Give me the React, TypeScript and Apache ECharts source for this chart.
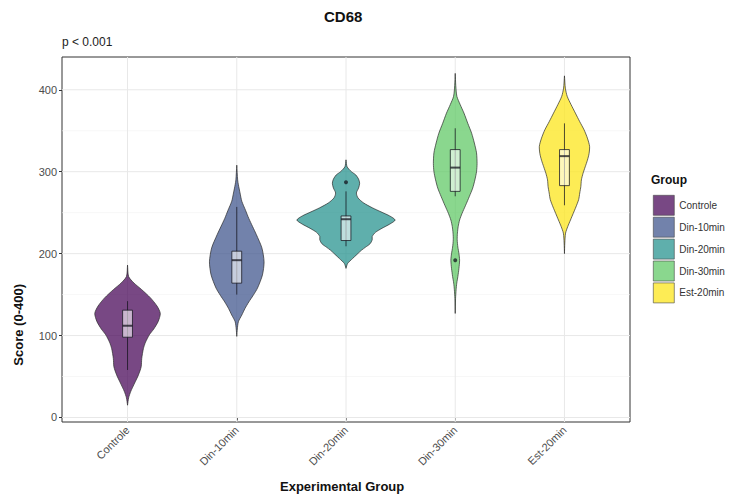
import React, { useEffect, useRef } from "react";
import * as echarts from "echarts";

const categories = ["Controle", "Din-10min", "Din-20min", "Din-30min", "Est-20min"];
const fills = [
  "rgba(68,1,84,0.72)",
  "rgba(59,82,139,0.72)",
  "rgba(33,144,140,0.72)",
  "rgba(93,200,99,0.72)",
  "rgba(253,231,37,0.78)",
];

// violin outlines: [score, half width in category units]
const controleProfile = [[186,0],[172,0.01],[164,0.06],[156,0.13],[146,0.21],[136,0.27],[127,0.30],[117,0.28],[108,0.24],[101,0.20],[92,0.165],[84,0.145],[72,0.13],[62,0.125],[52,0.10],[42,0.065],[32,0.03],[24,0.01],[15,0]];
const din10Profile = [[308,0],[290,0.008],[284,0.015],[274,0.03],[264,0.046],[253,0.08],[243,0.11],[233,0.145],[223,0.18],[207,0.23],[190,0.25],[174,0.235],[158,0.19],[149,0.15],[141,0.11],[133,0.075],[125,0.046],[117,0.015],[108,0.005],[99,0]];
const din20Profile = [[314.5,0],[306,0.01],[300,0.05],[296,0.09],[291,0.115],[286,0.125],[280,0.115],[274,0.095],[268,0.11],[262,0.16],[256,0.24],[251,0.32],[246,0.40],[241,0.45],[236,0.40],[231,0.33],[226,0.27],[221,0.24],[217,0.24],[212,0.22],[208,0.18],[204,0.14],[199,0.10],[194,0.06],[188,0.015],[182,0]];
const din30Profile = [[420,0],[405,0.005],[392,0.015],[382,0.045],[371.5,0.08],[359,0.115],[347,0.15],[335,0.175],[323,0.195],[310,0.20],[300,0.195],[290,0.18],[280,0.16],[270,0.13],[259,0.095],[249,0.062],[241,0.04],[233,0.027],[225,0.02],[217,0.018],[208,0.024],[200,0.034],[192,0.04],[182,0.034],[172,0.024],[164,0.014],[156,0.008],[145,0.003],[127,0]];
const est20Profile = [[417,0],[402,0.008],[392,0.025],[382,0.06],[371.5,0.1],[361,0.14],[351,0.18],[341,0.21],[331,0.23],[322,0.225],[314,0.21],[306,0.19],[298,0.17],[290,0.155],[282,0.15],[274,0.14],[266,0.13],[257,0.105],[249,0.08],[241,0.055],[233,0.03],[225,0.01],[213,0.003],[200,0]];
const profiles = [controleProfile, din10Profile, din20Profile, din30Profile, est20Profile];

// box stats: [lower whisker, q1, median, q3, upper whisker]
const boxStats = [
  [58, 98, 112, 131, 142],
  [150, 164, 192, 203, 257],
  [209, 216, 242, 246, 276],
  [270, 276, 305, 327, 353],
  [259, 283, 319, 327, 359],
];
const outliers = [[], [], [287], [192], []];

const yTicks = [0, 100, 200, 300, 400];
const yMinor = [50, 150, 250, 350];
const xTicks = [1, 2, 3, 4, 5];

const FONT = "Liberation Sans, Arial, sans-serif";

export default function App() {
  const ref = useRef<HTMLDivElement>(null);
  useEffect(() => {
    const chart = echarts.init(ref.current!, null, { renderer: "svg" });
    const gridData: number[][] = [
      ...yMinor.map((v) => [1, v]),
      ...yTicks.map((v) => [0, v]),
      ...xTicks.map((v) => [2, v]),
    ];
    const gridSeries = {
      type: "custom",
      name: "grid",
      silent: true,
      z: 1,
      data: gridData,
      renderItem: (params: any, api: any) => {
        const cs = params.coordSys;
        const kind = api.value(0);
        const v = api.value(1);
        if (kind === 2) {
          const p = api.coord([v, 0]);
          return { type: "line", shape: { x1: p[0], y1: cs.y, x2: p[0], y2: cs.y + cs.height }, style: { stroke: "#e8e8e8", lineWidth: 1 } };
        }
        const p = api.coord([1, v]);
        return {
          type: "line",
          shape: { x1: cs.x, y1: p[1], x2: cs.x + cs.width, y2: p[1] },
          style: { stroke: kind === 0 ? "#e8e8e8" : "#f2f2f2", lineWidth: kind === 0 ? 1 : 0.6 },
        };
      },
    };
    const violinSeries = categories.map((name, i) => ({
      type: "custom",
      name,
      z: 3,
      itemStyle: { color: fills[i] },
      data: [[i + 1, boxStats[i][2]]],
      renderItem: (params: any, api: any) => {
        const cx = i + 1;
        const prof = profiles[i];
        const right = prof.map(([v, w]) => api.coord([cx + w, v]));
        const left = prof.slice().reverse().map(([v, w]) => api.coord([cx - w, v]));
        const pts = right.concat(left);
        const [lw, q1, med, q3, uw] = boxStats[i];
        const bw = 0.045;
        const tl = api.coord([cx - bw, q3]);
        const br = api.coord([cx + bw, q1]);
        const wTop = api.coord([cx, uw]);
        const wBot = api.coord([cx, lw]);
        const mL = api.coord([cx - bw, med]);
        const mR = api.coord([cx + bw, med]);
        const dark = "rgba(20,20,30,0.75)";
        const children: any[] = [
          { type: "polygon", shape: { points: pts, smooth: 0.25 }, style: { fill: fills[i], stroke: "#2b2b2b", lineWidth: 0.7 } },
          { type: "line", shape: { x1: wTop[0], y1: wTop[1], x2: wBot[0], y2: wBot[1] }, style: { stroke: dark, lineWidth: 1 } },
          { type: "rect", shape: { x: tl[0], y: tl[1], width: br[0] - tl[0], height: br[1] - tl[1] }, style: { fill: "rgba(255,255,255,0.6)", stroke: dark, lineWidth: 1 } },
          { type: "line", shape: { x1: mL[0], y1: mL[1], x2: mR[0], y2: mR[1] }, style: { stroke: dark, lineWidth: 2 } },
        ];
        outliers[i].forEach((o) => {
          const p = api.coord([cx, o]);
          children.push({ type: "circle", shape: { cx: p[0], cy: p[1], r: 2 }, style: { fill: dark } });
        });
        return { type: "group", children };
      },
    }));

    chart.setOption({
      animation: false,
      backgroundColor: "#ffffff",
      textStyle: { fontFamily: FONT },
      grid: { left: 62, right: 111, top: 57, bottom: 78, show: true, borderColor: "#333333", borderWidth: 1, backgroundColor: "transparent" },
      xAxis: {
        type: "value",
        min: 0.4,
        max: 5.6,
        axisLine: { show: false },
        splitLine: { show: false },
        axisTick: { show: true, length: 3, customValues: xTicks, lineStyle: { color: "#333" } },
        axisLabel: {
          customValues: xTicks,
          rotate: 45,
          margin: 6,
          fontSize: 11,
          color: "#4d4d4d",
          fontFamily: FONT,
          formatter: (v: number) => categories[Math.round(v) - 1] ?? "",
        },
      },
      yAxis: {
        type: "value",
        min: -5.5,
        max: 440,
        axisLine: { show: false },
        splitLine: { show: false },
        axisTick: { show: true, length: 3, customValues: yTicks, lineStyle: { color: "#333" } },
        axisLabel: { customValues: yTicks, margin: 5, fontSize: 11, color: "#4d4d4d", fontFamily: FONT },
      },
      legend: {
        data: categories,
        orient: "vertical",
        left: 653,
        top: 195,
        padding: 0,
        icon: "rect",
        itemWidth: 21,
        itemHeight: 20,
        itemGap: 1.3,
        itemStyle: { borderColor: "#444", borderWidth: 0.6 },
        textStyle: { fontSize: 10, color: "#333", fontFamily: FONT },
        selectedMode: false,
      },
      graphic: [
        { type: "text", left: 346 - 22, top: 9, style: { text: "CD68", font: `bold 15px ${FONT}`, fill: "#111" } },
        { type: "text", left: 62, top: 36, style: { text: "p < 0.001", font: `12px ${FONT}`, fill: "#222" } },
        { type: "text", left: 651, top: 174, style: { text: "Group", font: `bold 12px ${FONT}`, fill: "#111" } },
        { type: "text", left: 346 - 66, top: 480, style: { text: "Experimental Group", font: `bold 13px ${FONT}`, fill: "#111" } },
        { type: "text", left: 12, top: 240 + 44, rotation: Math.PI / 2, style: { text: "Score (0-400)", font: `bold 13px ${FONT}`, fill: "#111" } },
      ],
      series: [gridSeries, ...violinSeries],
    });
    return () => chart.dispose();
  }, []);
  return <div ref={ref} style={{ position: "fixed", left: 0, top: 0, width: 741, height: 500 }} />;
}
